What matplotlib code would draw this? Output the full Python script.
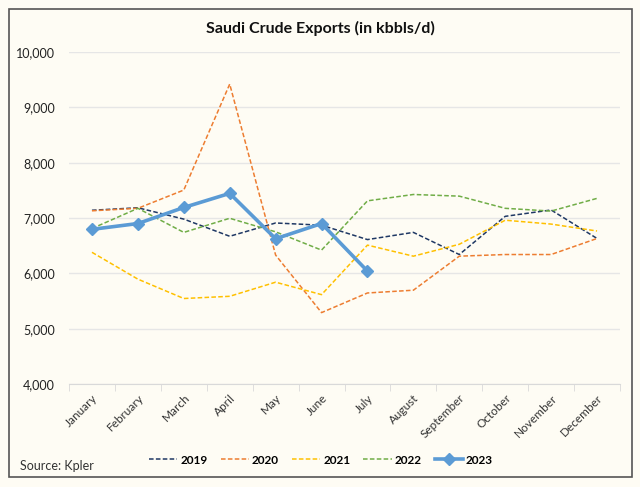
import numpy as np
import matplotlib
matplotlib.use("Agg")
from matplotlib import pyplot as plt
from matplotlib.ticker import FuncFormatter, FixedLocator

plt.rcParams['font.family'] = ['Lato', 'DejaVu Sans']

months = ["January", "February", "March", "April", "May", "June", "July",
          "August", "September", "October", "November", "December"]

# kbbls/d
y2019 = [7140, 7185, 6980, 6670, 6910, 6870, 6610, 6740, 6340, 7030, 7145, 6630]
y2020 = [7130, 7175, 7505, 9420, 6330, 5290, 5645, 5695, 6310, 6340, 6340, 6630]
y2021 = [6380, 5895, 5545, 5585, 5840, 5615, 6510, 6310, 6525, 6960, 6890, 6765]
y2022 = [6810, 7175, 6740, 6995, 6750, 6420, 7310, 7425, 7395, 7175, 7125, 7355]
y2023 = [6795, 6900, 7190, 7445, 6625, 6900, 6040]

bg = "#FEFCF4"

fig = plt.figure(figsize=(6.4, 4.87), dpi=100, facecolor=bg)
ax = fig.add_axes([69/640, 1-384/487, (620-69)/640, (384-52)/487], facecolor=bg)

x = np.arange(len(months))
ax.plot(x, y2019, color="#1F3864", lw=1.1, ls=(0, (3, 1.5)), label="2019")
ax.plot(x, y2020, color="#ED7D31", lw=1.1, ls=(0, (3, 1.5)), label="2020")
ax.plot(x, y2021, color="#FFC000", lw=1.1, ls=(0, (3, 1.5)), label="2021")
ax.plot(x, y2022, color="#70AD47", lw=1.1, ls=(0, (3, 1.5)), label="2022")
ax.plot(x[:len(y2023)], y2023, color="#5B9BD5", lw=2.6, marker="D", ms=6.5,
        label="2023", zorder=5)

ax.set_xlim(-0.5, 11.5)
ax.set_ylim(4000, 10000)
ax.set_yticks(np.arange(4000, 10001, 1000))
ax.yaxis.set_major_formatter(FuncFormatter(lambda v, p: f"{int(v):,}"))
ax.grid(axis="y", color="#E6E6E6", lw=1)
ax.set_axisbelow(True)

ax.set_xticks(x)
ax.set_xticklabels(months, rotation=45, ha="right", rotation_mode="anchor",
                   fontsize=8.5, color="#333333")
ax.tick_params(axis="x", length=0, pad=6)
ax.xaxis.set_minor_locator(FixedLocator(np.arange(-0.5, 12, 1)))
ax.tick_params(axis="x", which="minor", length=5, color="#D9D9D9")
ax.tick_params(axis="y", length=0, labelsize=9, colors="#222222", pad=10)

for s in ["top", "right", "left"]:
    ax.spines[s].set_visible(False)
ax.spines["bottom"].set_color("#D9D9D9")

fig.text(0.5, 1 - 28/487, "Saudi Crude Exports (in kbbls/d)", ha="center",
         va="center", fontsize=11.5, fontweight="bold", color="#111111")

leg = fig.legend(loc="center", bbox_to_anchor=(321/640, 1-460/487), ncol=5,
                 frameon=False, handlelength=2.4, columnspacing=1.1,
                 handletextpad=0.25, prop={"weight": "bold", "size": 8.5})
fig.text(20/640, 1-466/487, "Source: Kpler", ha="left", va="center",
         fontsize=9, color="#333333")

border = plt.Rectangle((9/640, 1-477/487), 623/640, 468/487, transform=fig.transFigure,
                       fill=False, edgecolor="#555555", lw=1.2)
fig.patches.append(border)

fig.savefig("out.png", dpi=100, facecolor=bg)
